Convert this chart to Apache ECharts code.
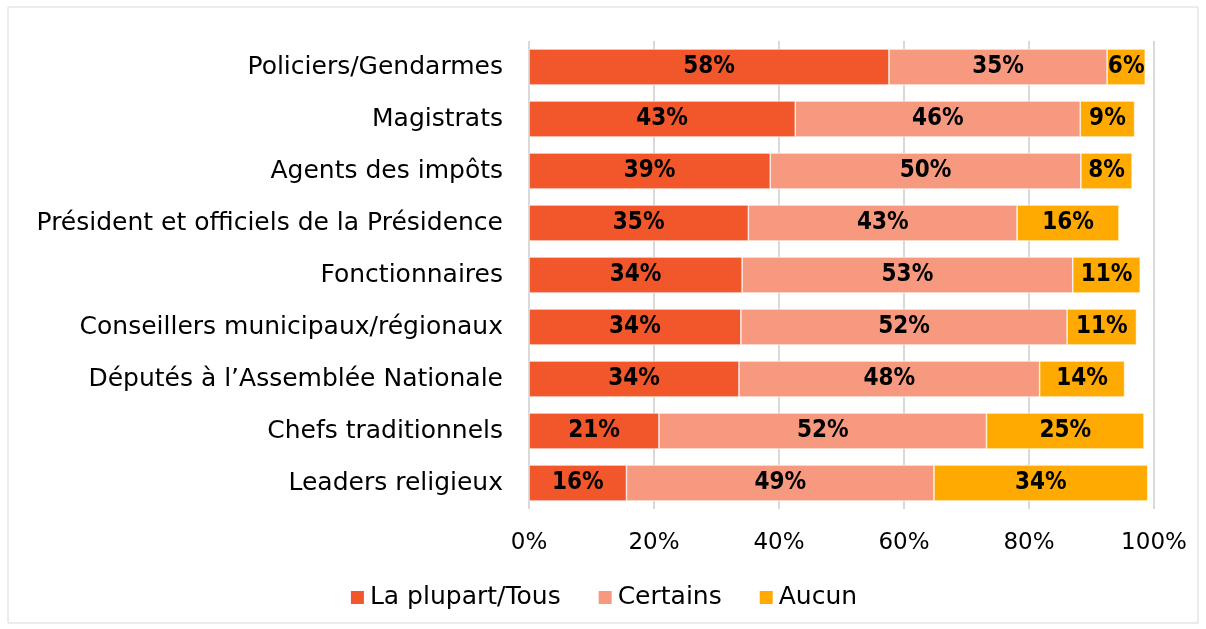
<!DOCTYPE html>
<html>
<head>
<meta charset="utf-8">
<script src="https://cdn.jsdelivr.net/npm/echarts@6/dist/echarts.min.js"></script>
<style>
  html, body { margin: 0; padding: 0; background: #fff; }
  #chart { width: 1206px; height: 629px; }
</style>
</head>
<body>
<div id="chart"></div>
<script>
// catégories (du haut vers le bas)
var categories = ['Policiers/Gendarmes', 'Magistrats', 'Agents des impôts',
  'Président et officiels de la Présidence', 'Fonctionnaires',
  'Conseillers municipaux/régionaux', 'Députés à l\u2019Assemblée Nationale',
  'Chefs traditionnels', 'Leaders religieux'];
var seriesNames = ['La plupart/Tous', 'Certains', 'Aucun'];
var plupartTous = [57.6, 42.6, 38.6, 35.1, 34.1, 33.9, 33.6, 20.8, 15.6];
var certains    = [34.9, 45.6, 49.7, 43.0, 52.9, 52.2, 48.1, 52.4, 49.2];
var aucun       = [6.1, 8.7, 8.2, 16.3, 10.8, 11.1, 13.6, 25.2, 34.2];
var xTicks = [0, 20, 40, 60, 80, 100];

var colors = ['#F2572B', '#F7997F', '#FFAA00'];
var font = '"DejaVu Sans", sans-serif';
var labelFont = '"DejaVu Sans Condensed", "DejaVu Sans", sans-serif';

var myChart = echarts.init(document.getElementById('chart'));

function mkSeries(name, data, idx) {
  return {
    name: name,
    type: 'bar',
    stack: 'total',
    barWidth: 36,
    itemStyle: { color: colors[idx], borderColor: '#fff', borderWidth: 0.6 },
    label: {
      show: true,
      position: 'inside',
      color: '#000',
      fontFamily: labelFont,
      fontWeight: 'bold',
      fontSize: 24,
      formatter: function (p) { return Math.round(p.value) + '%'; }
    },
    data: data
  };
}

var option = {
  animation: false,
  graphic: [{
    type: 'rect',
    shape: { x: 8, y: 7, width: 1190, height: 616 },
    style: { fill: 'none', stroke: '#D9D9D9', lineWidth: 1 },
    silent: true
  }],
  legend: {
    bottom: 14,
    left: 'center',
    itemWidth: 15,
    itemHeight: 15,
    itemGap: 36,
    icon: 'rect',
    textStyle: { fontFamily: font, fontSize: 25, color: '#000' },
    data: seriesNames
  },
  grid: { left: 529, right: 52, top: 41, bottom: 120 },
  xAxis: {
    type: 'value',
    min: 0,
    max: 100,
    interval: 20,
    axisLine: { show: false },
    axisTick: { show: false },
    axisLabel: {
      margin: 23,
      fontFamily: font,
      fontSize: 23,
      color: '#000',
      formatter: function (v) { return xTicks.indexOf(v) >= 0 ? v + '%' : ''; }
    },
    splitLine: { show: true, lineStyle: { color: '#D9D9D9', width: 2 } }
  },
  yAxis: {
    type: 'category',
    inverse: true,
    data: categories,
    axisLine: { show: false },
    axisTick: { show: false },
    axisLabel: { margin: 26, fontFamily: font, fontSize: 25, color: '#000' }
  },
  series: [
    mkSeries(seriesNames[0], plupartTous, 0),
    mkSeries(seriesNames[1], certains, 1),
    mkSeries(seriesNames[2], aucun, 2)
  ]
};

myChart.setOption(option);
</script>
</body>
</html>
